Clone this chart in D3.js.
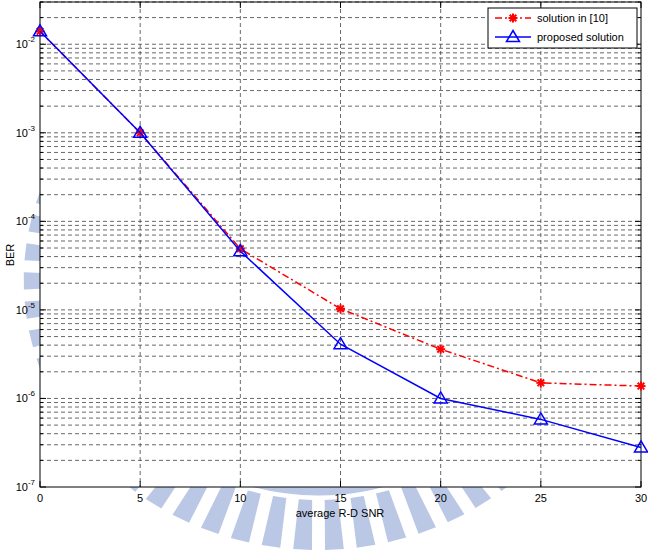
<!DOCTYPE html>
<html><head><meta charset="utf-8">
<script src="https://cdn.jsdelivr.net/npm/d3@7"></script>
<style>html,body{margin:0;padding:0;background:#fff;}svg{display:block;font-family:"Liberation Sans",Arial,sans-serif;}</style>
</head><body>
<svg id="chart" width="648" height="552"></svg>
<script>
const snr = [0, 5, 10, 15, 20, 25, 30];
const berRef = [1.4e-2, 1.0e-3, 4.9e-5, 1.03e-5, 3.6e-6, 1.5e-6, 1.38e-6];
const berProposed = [1.4e-2, 1.0e-3, 4.6e-5, 4.1e-6, 1.0e-6, 5.8e-7, 2.8e-7];
const seriesNames = ["solution in [10]", "proposed solution"];
const xTicks = [0, 5, 10, 15, 20, 25, 30];
const yDecades = [-7, -6, -5, -4, -3, -2];
const xLabel = "average R-D SNR";
const yLabel = "BER";

const svg = d3.select("#chart");
const L = 40, R = 641, T = 2, B = 487;
const x = d3.scaleLinear().domain([0, 30]).range([L, R]);
const y = d3.scaleLog().domain([1e-7, 3e-2]).range([B, T]);

// watermark (faint emblem)
const wm = svg.append("g").attr("fill", "#a9bbe0").attr("opacity", 0.8);
const cx = 318, cy = 280, sx = 1.09;
for (let a = 0; a < 360; a += 6.2) {
  const t0 = (a - 1.6) * Math.PI / 180, t1 = (a + 1.6) * Math.PI / 180;
  const ri = 220, ro = 270;
  const pts = [[ri, t0], [ro, t0 - 0.004], [ro, t1 + 0.004], [ri, t1]]
    .map(([r, t]) => [cx + sx * r * Math.cos(t), cy + r * Math.sin(t)]);
  wm.append("path").attr("d", "M" + pts.map(p => p.join(",")).join("L") + "Z");
}
wm.append("ellipse").attr("cx", cx).attr("cy", cy).attr("rx", 211 * sx).attr("ry", 211)
  .attr("fill", "none").attr("stroke", "#a9bbe0").attr("stroke-width", 9);

// plot background
svg.append("rect").attr("x", L).attr("y", T).attr("width", R - L).attr("height", B - T).attr("fill", "#fff");

// grid
const grid = svg.append("g").attr("stroke", "#444").attr("stroke-width", 0.8).attr("stroke-dasharray", "4,3").attr("fill", "none");
const yGridVals = [];
for (const d of [-7, -6, -5, -4, -3, -2]) for (let m = 1; m <= 9; m++) { const v = m * Math.pow(10, d); if (v <= 3e-2 && v > 1e-7) yGridVals.push(v); }
yGridVals.forEach(v => grid.append("line").attr("x1", L).attr("x2", R).attr("y1", y(v)).attr("y2", y(v)));
xTicks.slice(1, -1).forEach(v => grid.append("line").attr("x1", x(v)).attr("x2", x(v)).attr("y1", T).attr("y2", B));

// axes box + ticks (MATLAB-style inward ticks)
const ax = svg.append("g").attr("stroke", "#000").attr("stroke-width", 1);
ax.append("rect").attr("x", L).attr("y", T).attr("width", R - L).attr("height", B - T).attr("fill", "none");
xTicks.forEach(v => {
  ax.append("line").attr("x1", x(v)).attr("x2", x(v)).attr("y1", B).attr("y2", B - 6);
  ax.append("line").attr("x1", x(v)).attr("x2", x(v)).attr("y1", T).attr("y2", T + 6);
});
yGridVals.concat([1e-7]).forEach(v => {
  const major = Math.abs(Math.log10(v) - Math.round(Math.log10(v))) < 1e-9;
  const len = major ? 6 : 3;
  ax.append("line").attr("x1", L).attr("x2", L + len).attr("y1", y(v)).attr("y2", y(v));
  ax.append("line").attr("x1", R).attr("x2", R - len).attr("y1", y(v)).attr("y2", y(v));
});

// tick labels
const tl = svg.append("g").attr("fill", "#000").attr("font-size", 11);
xTicks.forEach(v => tl.append("text").attr("x", x(v)).attr("y", B + 15).attr("text-anchor", "middle").text(v));
yDecades.forEach(d => {
  const t = tl.append("text").attr("x", 35).attr("y", y(Math.pow(10, d)) + 4).attr("text-anchor", "end");
  t.append("tspan").text("10");
  t.append("tspan").attr("font-size", 8).attr("dy", -6).text(d);
});
svg.append("text").attr("x", 340).attr("y", 517).attr("text-anchor", "middle").attr("font-size", 11).text(xLabel);
svg.append("text").attr("transform", "translate(14,255) rotate(-90)").attr("text-anchor", "middle").attr("font-size", 11).text(yLabel);

// series
const line = d3.line().x((d, i) => x(snr[i])).y(d => y(d));
function star(g, px, py, color) {
  const s = 4.5, d = 3.3;
  [[-s, 0, s, 0], [0, -s, 0, s], [-d, -d, d, d], [-d, d, d, -d]].forEach(c =>
    g.append("line").attr("x1", px + c[0]).attr("y1", py + c[1]).attr("x2", px + c[2]).attr("y2", py + c[3])
      .attr("stroke", color).attr("stroke-width", 2));
}
function tri(g, px, py, color) {
  g.append("path").attr("d", `M${px},${py - 6.5}L${px + 6.5},${py + 4.5}L${px - 6.5},${py + 4.5}Z`)
    .attr("fill", "none").attr("stroke", color).attr("stroke-width", 1.5);
}
const gRef = svg.append("g");
gRef.append("path").attr("d", line(berRef)).attr("fill", "none").attr("stroke", "#ff0000").attr("stroke-width", 1.5).attr("stroke-dasharray", "7,3,2,3");
berRef.forEach((v, i) => star(gRef, x(snr[i]), y(v), "#ff0000"));
const gPro = svg.append("g");
gPro.append("path").attr("d", line(berProposed)).attr("fill", "none").attr("stroke", "#0000ff").attr("stroke-width", 1.5);
berProposed.forEach((v, i) => tri(gPro, x(snr[i]), y(v), "#0000ff"));

// legend
const lg = svg.append("g");
lg.append("rect").attr("x", 488).attr("y", 8).attr("width", 149).attr("height", 40).attr("fill", "#fff").attr("stroke", "#000").attr("stroke-width", 1);
lg.append("line").attr("x1", 495).attr("x2", 531).attr("y1", 18).attr("y2", 18).attr("stroke", "#ff0000").attr("stroke-width", 1.5).attr("stroke-dasharray", "7,3,2,3");
star(lg, 513, 18, "#ff0000");
lg.append("line").attr("x1", 495).attr("x2", 531).attr("y1", 37).attr("y2", 37).attr("stroke", "#0000ff").attr("stroke-width", 1.5);
tri(lg, 513, 37, "#0000ff");
lg.append("text").attr("x", 537).attr("y", 22).attr("font-size", 11).text(seriesNames[0]);
lg.append("text").attr("x", 537).attr("y", 41).attr("font-size", 11).text(seriesNames[1]);
</script>
</body></html>
